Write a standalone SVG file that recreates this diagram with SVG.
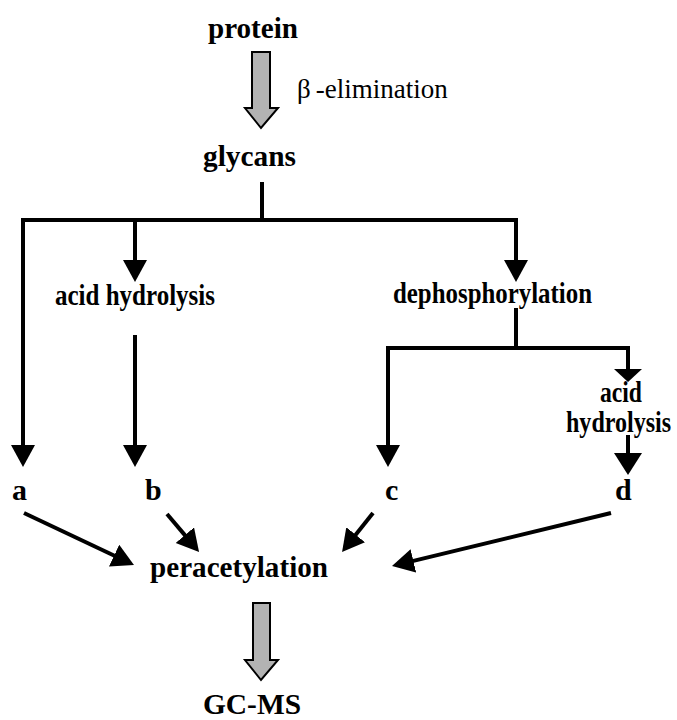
<svg xmlns="http://www.w3.org/2000/svg" width="677" height="720" viewBox="0 0 677 720">
<defs>
<style>
.b{font-family:'Liberation Serif','DejaVu Serif',serif;font-weight:bold;fill:#000}
.big{font-size:30px}
.sm{font-size:29px}
.reg{font-family:'Liberation Serif','DejaVu Serif',serif;font-size:27px;fill:#000}
.ln{stroke:#000;stroke-width:4;fill:none}
.gray{fill:#b3b3b3;stroke:#000;stroke-width:2;stroke-linejoin:miter}
</style>
<marker id="ah" markerUnits="userSpaceOnUse" markerWidth="24" markerHeight="26" refX="1" refY="12" orient="auto">
<path d="M0,0 L22,12 L0,24 z" fill="#000"/>
</marker>
</defs>
<g id="protein"><text class="b big" x="208" y="38" textLength="90" lengthAdjust="spacingAndGlyphs">protein</text></g>
<g id="beta-arrow"><polygon class="gray" points="252,52 270,52 270,108 278,108 261,128 245,108 252,108"/><text class="reg" x="297" y="98">β<tspan dx="5">-elimination</tspan></text></g>
<g id="glycans"><text class="b big" x="203" y="166" textLength="93" lengthAdjust="spacingAndGlyphs">glycans</text></g>
<g id="acid-hydrolysis-1"><text class="b sm" x="55" y="305" textLength="160" lengthAdjust="spacingAndGlyphs">acid hydrolysis</text></g>
<g id="dephosphorylation"><text class="b sm" x="393" y="303" textLength="199" lengthAdjust="spacingAndGlyphs">dephosphorylation</text></g>
<g id="acid-hydrolysis-2"><text class="b sm" x="600" y="402" textLength="42" lengthAdjust="spacingAndGlyphs">acid</text><text class="b sm" transform="translate(566,432) scale(0.83,1)" x="0" y="0">hydrolysis</text></g>
<g id="a"><text class="b big" x="12" y="500">a</text></g>
<g id="b"><text class="b big" x="145" y="500">b</text></g>
<g id="c"><text class="b big" x="385" y="500">c</text></g>
<g id="d"><text class="b big" x="615" y="500">d</text></g>
<g id="peracetylation"><text class="b big" x="150" y="577" textLength="178" lengthAdjust="spacingAndGlyphs">peracetylation</text></g>
<g id="gc-arrow"><polygon class="gray" points="253,603 270,603 270,660 278,660 261,680 245,660 253,660"/></g>
<g id="gcms"><text class="b big" x="203" y="714" textLength="98" lengthAdjust="spacingAndGlyphs">GC-MS</text></g>
<g id="connectors">
<path class="ln" d="M262,182 V220"/>
<path class="ln" d="M23,220 H516"/>
<path class="ln" d="M23,218 V446" marker-end="url(#ah)"/>
<path class="ln" d="M135,218 V261" marker-end="url(#ah)"/>
<path class="ln" d="M516,218 V261" marker-end="url(#ah)"/>
<path class="ln" d="M135,335 V446" marker-end="url(#ah)"/>
<path class="ln" d="M516,308 V348"/>
<path class="ln" d="M388,348 H628"/>
<path class="ln" d="M388,346 V446" marker-end="url(#ah)"/>
<path class="ln" d="M628,346 V370"/>
<polygon points="614,369 642,369 628,382" fill="#000"/>
<path class="ln" d="M628,435 V455"/>
<polygon points="614,453 642,453 628,475" fill="#000"/>
<path class="ln" d="M24,513 L115,556" marker-end="url(#ah)"/>
<path class="ln" d="M167,514 L185.5,535.9" marker-end="url(#ah)"/>
<path class="ln" d="M373,513 L355.1,535.6" marker-end="url(#ah)"/>
<path class="ln" d="M611,513 L412.4,561.1" marker-end="url(#ah)"/>
</g>
</svg>
